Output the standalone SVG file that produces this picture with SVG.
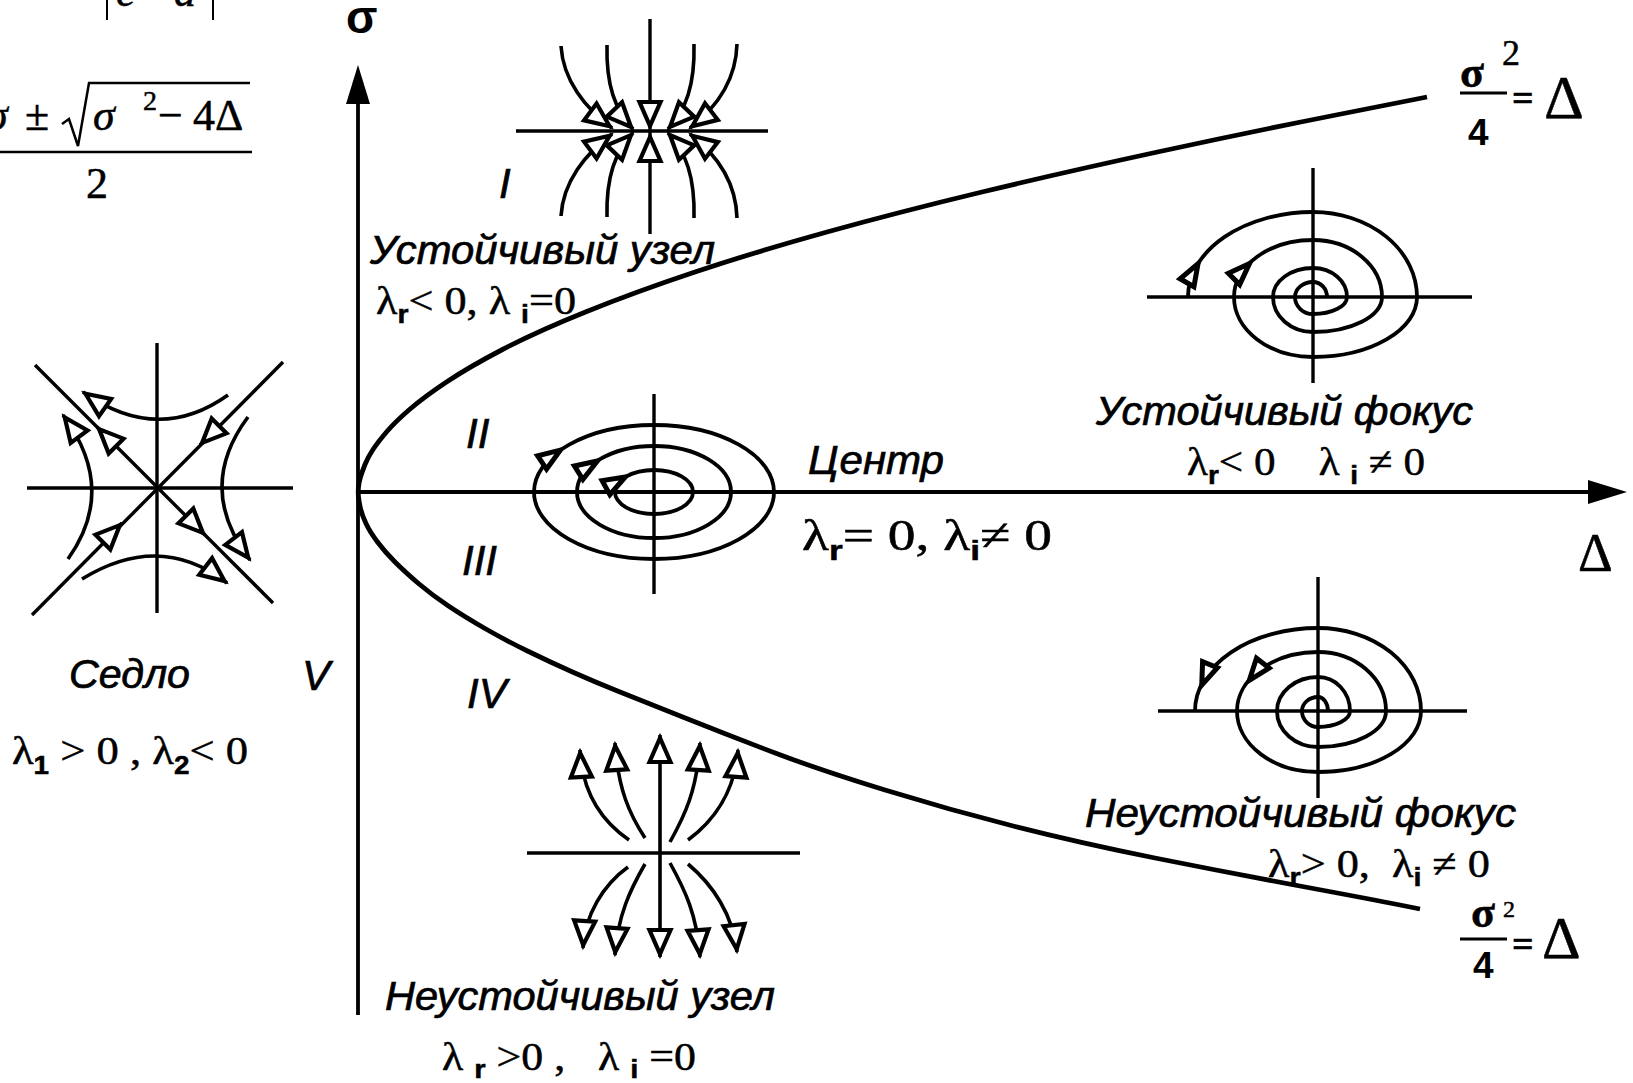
<svg xmlns="http://www.w3.org/2000/svg" width="1633" height="1083" viewBox="0 0 1633 1083">
<style>
.ax{stroke:#000;stroke-width:3.8;fill:none}
.th{stroke:#000;stroke-width:3.4;fill:none}
.cv{stroke:#000;stroke-width:3.6;fill:none;marker-end:url(#ah)}
.sp{stroke:#000;stroke-width:3.8;fill:none}
.pl{stroke:#000;stroke-width:4.8;fill:none;stroke-linejoin:round}
.ar{fill:#fff;stroke:#000;stroke-width:4.2}
.as{fill:#fff;stroke:#000;stroke-width:5}
.lab{font-family:"Liberation Sans",Arial,sans-serif;font-style:italic;font-size:40px;stroke:#000;stroke-width:0.7}
.rn{font-family:"Liberation Sans",Arial,sans-serif;font-style:italic;font-size:42px;stroke:#000;stroke-width:0.7}
.fm{font-family:"Liberation Serif","Times New Roman",serif;stroke:#000;stroke-width:0.5}
.sb{font-family:"Liberation Sans",Arial,sans-serif;font-weight:bold}
</style>
<defs>
<marker id="ah" markerUnits="userSpaceOnUse" viewBox="-34 -17 38 34" markerWidth="38" markerHeight="34" refX="0" refY="0" orient="auto" overflow="visible">
<path d="M-3,0 L-27,-10.5 L-27,10.5 Z" fill="#fff" stroke="#000" stroke-width="4.2"/>
</marker>
<path id="ts" d="M-2,0 L-24,-8 L-24,8 Z"/>
<path id="tb" d="M-3,0 L-27,-10.5 L-27,10.5 Z"/>
</defs>
<rect width="1633" height="1083" fill="#fff"/>

<g id="formula">
<line x1="107" y1="-5" x2="107" y2="20" stroke="#000" stroke-width="2"/>
<line x1="213" y1="-5" x2="213" y2="20" stroke="#000" stroke-width="2"/>
<text class="fm" x="116" y="6" font-size="44" font-style="italic">c</text>
<text class="fm" x="174" y="6" font-size="44" font-style="italic">d</text>
<text class="fm" x="-14" y="130" font-size="44" font-style="italic">σ</text>
<text class="fm" x="25" y="130" font-size="44">±</text>
<path d="M62,124 L69,119 L78,146 L89,83 L250,83" stroke="#000" stroke-width="2.5" fill="none"/>
<text class="fm" x="93" y="130" font-size="44" font-style="italic">σ</text>
<text class="fm" x="143" y="110" font-size="28">2</text>
<text class="fm" x="158" y="130" font-size="44">−</text>
<text class="fm" x="193" y="130" font-size="44">4Δ</text>
<line x1="0" y1="152" x2="252" y2="152" stroke="#000" stroke-width="2.4"/>
<text class="fm" x="86" y="198" font-size="44">2</text>
</g>

<g id="axes">
<line class="ax" x1="358" y1="1015" x2="358" y2="100"/>
<polygon points="358,65 346,104 370,104"/>
<line class="ax" x1="358" y1="492" x2="1592" y2="492"/>
<polygon points="1627,492 1588,480 1588,504"/>
<text x="346" y="33" font-family="Liberation Sans,Arial,sans-serif" font-weight="bold" font-size="46">σ</text>
<text class="fm" x="1578" y="571" font-size="54">Δ</text>
<path class="pl" d="M1427,97 L1338.5,114.5 Q1250,132 1157.5,152 Q1065,172 982,192 Q899,212 827,232 Q755,252 695,272 Q635,292 585.5,312 Q536,332 502.5,349.5 Q469,367 446.5,382 Q424,397 409.5,409.5 Q395,422 386.5,432 Q378,442 373,449.5 Q368,457 365,464.5 Q362,472 360.5,477 Q359,482 358.5,487 Q358,492 358.5,497 Q359,502 360.5,508.5 Q362,515 366,523.5 Q370,532 377.5,542 Q385,552 395,562 Q405,572 418.5,583.5 Q432,595 448.5,606 Q465,617 485,628.5 Q505,640 527.5,651 Q550,662 572.5,672 Q595,682 617.5,691 Q640,700 686.5,718.5 Q733,737 776.5,753.5 Q820,770 885,790 Q950,810 1015,826.5 Q1080,843 1155,858 Q1230,873 1302.5,886.5 Q1375,900 1397.5,904.5 L1420,909"/>
</g>

<g id="eq-top">
<text class="fm" x="1460" y="87" font-size="44" font-weight="bold">σ</text>
<text class="fm" x="1502" y="65" font-size="36">2</text>
<line x1="1460" y1="93" x2="1507" y2="93" stroke="#000" stroke-width="3"/>
<text class="fm" x="1512" y="111" font-size="38" font-weight="bold">=</text>
<text class="sb" x="1468" y="145" font-size="37">4</text>
<text class="fm" x="1544" y="118" font-size="62">Δ</text>
</g>
<g id="eq-bottom">
<text class="fm" x="1471" y="927" font-size="44" font-weight="bold">σ</text>
<text class="fm" x="1503" y="917" font-size="24">2</text>
<line x1="1460" y1="939" x2="1507" y2="939" stroke="#000" stroke-width="3"/>
<text class="fm" x="1512" y="957" font-size="38" font-weight="bold">=</text>
<text class="sb" x="1473" y="978" font-size="37">4</text>
<text class="fm" x="1542" y="958" font-size="60">Δ</text>
</g>

<g id="stable-node">
<line class="th" x1="516" y1="131" x2="768" y2="131"/>
<line class="th" x1="650" y1="19" x2="650" y2="234"/>
<path class="cv" d="M561,46 C563,80 585,108 612,128"/>
<path class="cv" d="M607,45 C606,85 615,110 633,129"/>
<path class="cv" d="M694,44 C695,85 686,110 668,129"/>
<path class="cv" d="M737,44 C736,80 716,108 690,128"/>
<path class="cv" d="M561,216 C563,182 585,154 612,134"/>
<path class="cv" d="M607,217 C606,177 615,152 633,133"/>
<path class="cv" d="M694,218 C695,177 686,152 668,133"/>
<path class="cv" d="M737,218 C736,182 716,154 690,134"/>
<use href="#tb" class="ar" transform="translate(650,129) rotate(90)"/>
<use href="#tb" class="ar" transform="translate(650,134) rotate(-90)"/>
<text class="rn" x="499" y="198">I</text>
<text class="lab" x="370" y="264" textLength="345" lengthAdjust="spacingAndGlyphs">Устойчивый узел</text>
<text class="fm" x="376" y="314" font-size="39" textLength="200" lengthAdjust="spacingAndGlyphs">λ<tspan class="sb" font-size="25" dy="9">r</tspan><tspan dy="-9">&lt; 0, λ </tspan><tspan class="sb" font-size="25" dy="9">i</tspan><tspan dy="-9">=0</tspan></text>
</g>

<g id="saddle">
<line class="th" x1="157" y1="343" x2="157" y2="613"/>
<line class="th" x1="27" y1="488" x2="293" y2="488"/>
<line class="th" x1="35" y1="365" x2="273" y2="603"/>
<line class="th" x1="283" y1="362" x2="32" y2="615"/>
<path class="cv" d="M228,395 Q158,445 83,392"/>
<path class="cv" d="M68,559 Q118,489 63,415"/>
<path class="cv" d="M248,417 Q195,488 250,560"/>
<path class="cv" d="M82,579 Q160,531 227,583"/>
<path class="cv" d="M117,447 L97,427"/>
<path class="cv" d="M185,515 L205,535"/>
<path class="cv" d="M220,425 L200,445"/>
<path class="cv" d="M102,543 L122,523"/>
<text class="lab" x="69" y="688" textLength="121" lengthAdjust="spacingAndGlyphs">Седло</text>
<text class="fm" x="12" y="764" font-size="40" textLength="236" lengthAdjust="spacingAndGlyphs">λ<tspan class="sb" font-size="25" dy="10">1</tspan><tspan dy="-10"> &gt; 0 , λ</tspan><tspan class="sb" font-size="25" dy="10">2</tspan><tspan dy="-10">&lt; 0</tspan></text>
</g>

<g id="center">
<line class="th" x1="654" y1="394" x2="654" y2="594"/>
<ellipse class="sp" cx="654" cy="492" rx="120" ry="67"/>
<ellipse class="sp" cx="654" cy="492" rx="77" ry="46"/>
<ellipse class="sp" cx="654" cy="492" rx="39" ry="22"/>
<use href="#ts" class="as" transform="translate(562,449) rotate(-34)"/>
<use href="#ts" class="as" transform="translate(599,460) rotate(-32)"/>
<use href="#ts" class="as" transform="translate(627,476) rotate(-29)"/>
<text class="lab" x="808" y="474" textLength="136" lengthAdjust="spacingAndGlyphs">Центр</text>
<text class="fm" x="802" y="550" font-size="44" textLength="250" lengthAdjust="spacingAndGlyphs">λ<tspan class="sb" font-size="28" dy="10">r</tspan><tspan dy="-10">= 0, λ</tspan><tspan class="sb" font-size="28" dy="10">i</tspan><tspan dy="-10">≠ 0</tspan></text>
</g>

<g id="stable-focus">
<line class="th" x1="1147" y1="297" x2="1472" y2="297"/>
<line class="th" x1="1313" y1="168" x2="1313" y2="383"/>
<path class="sp" d="M1188,297 A125,85 0 0 1 1313,212 A104,85 0 0 1 1417,297 A104,60 0 0 1 1313,357 A79,60 0 0 1 1234,297 A79,57 0 0 1 1313,240 A69,57 0 0 1 1382,297 A69,35 0 0 1 1313,332 A40,35 0 0 1 1273,297 A40,29 0 0 1 1313,268 A34,29 0 0 1 1347,297 A34,17 0 0 1 1313,314 A18,17 0 0 1 1295,297 A18,15 0 0 1 1313,282 A14,15 0 0 1 1327,297"/>
<use href="#ts" class="as" transform="translate(1199,262) rotate(-60)"/>
<use href="#ts" class="as" transform="translate(1251,262) rotate(-45)"/>
<text class="lab" x="1096" y="425" textLength="377" lengthAdjust="spacingAndGlyphs">Устойчивый фокус</text>
<text class="fm" x="1187" y="475" font-size="40" textLength="238" lengthAdjust="spacingAndGlyphs" xml:space="preserve">λ<tspan class="sb" font-size="26" dy="9">r</tspan><tspan dy="-9">&lt; 0    λ </tspan><tspan class="sb" font-size="26" dy="9">i</tspan><tspan dy="-9"> ≠ 0</tspan></text>
</g>

<g id="unstable-focus">
<line class="th" x1="1158" y1="711" x2="1467" y2="711"/>
<line class="th" x1="1318" y1="577" x2="1318" y2="798"/>
<path class="sp" d="M1328,711 A10,14 0 0 0 1318,697 A16,14 0 0 0 1302,711 A16,16 0 0 0 1318,727 A32,16 0 0 0 1350,711 A32,34 0 0 0 1318,677 A41,34 0 0 0 1277,711 A41,36 0 0 0 1318,747 A68,36 0 0 0 1386,711 A68,59 0 0 0 1318,652 A81,59 0 0 0 1237,711 A81,61 0 0 0 1318,772 A103,61 0 0 0 1421,711 A103,83 0 0 0 1318,628 A123,83 0 0 0 1195,711"/>
<use href="#ts" class="as" transform="translate(1201,687) rotate(112)"/>
<use href="#ts" class="as" transform="translate(1248,682) rotate(128)"/>
<text class="lab" x="1085" y="827" textLength="431" lengthAdjust="spacingAndGlyphs">Неустойчивый фокус</text>
<text class="fm" x="1268" y="877" font-size="40" textLength="222" lengthAdjust="spacingAndGlyphs" xml:space="preserve">λ<tspan class="sb" font-size="26" dy="9">r</tspan><tspan dy="-9">&gt; 0,  λ</tspan><tspan class="sb" font-size="26" dy="9">i</tspan><tspan dy="-9"> ≠ 0</tspan></text>
</g>

<g id="unstable-node">
<line class="th" x1="527" y1="853" x2="800" y2="853"/>
<path class="cv" d="M660,853 L660,735"/>
<path class="cv" d="M660,853 L660,957"/>
<path class="cv" d="M629,840 C600,820 582,790 580,750"/>
<path class="cv" d="M645,838 C630,815 618,790 615,743"/>
<path class="cv" d="M670,842 C685,815 697,790 700,743"/>
<path class="cv" d="M688,840 C715,820 735,790 738,750"/>
<path class="cv" d="M628,867 C603,885 585,915 583,948"/>
<path class="cv" d="M645,864 C630,890 618,915 615,955"/>
<path class="cv" d="M670,863 C685,890 697,915 700,957"/>
<path class="cv" d="M688,864 C713,885 733,915 737,952"/>
<text class="lab" x="385" y="1010" textLength="390" lengthAdjust="spacingAndGlyphs">Неустойчивый узел</text>
<text class="fm" x="442" y="1070" font-size="39" textLength="254" lengthAdjust="spacingAndGlyphs" xml:space="preserve">λ <tspan class="sb" font-size="26" dy="8">r</tspan><tspan dy="-8"> &gt;0 ,   λ </tspan><tspan class="sb" font-size="26" dy="8">i</tspan><tspan dy="-8"> =0</tspan></text>
</g>

<g id="region-labels">
<text class="rn" x="466" y="448">II</text>
<text class="rn" x="462" y="575">III</text>
<text class="rn" x="467" y="708">IV</text>
<text class="rn" x="302" y="690">V</text>
</g>
</svg>
